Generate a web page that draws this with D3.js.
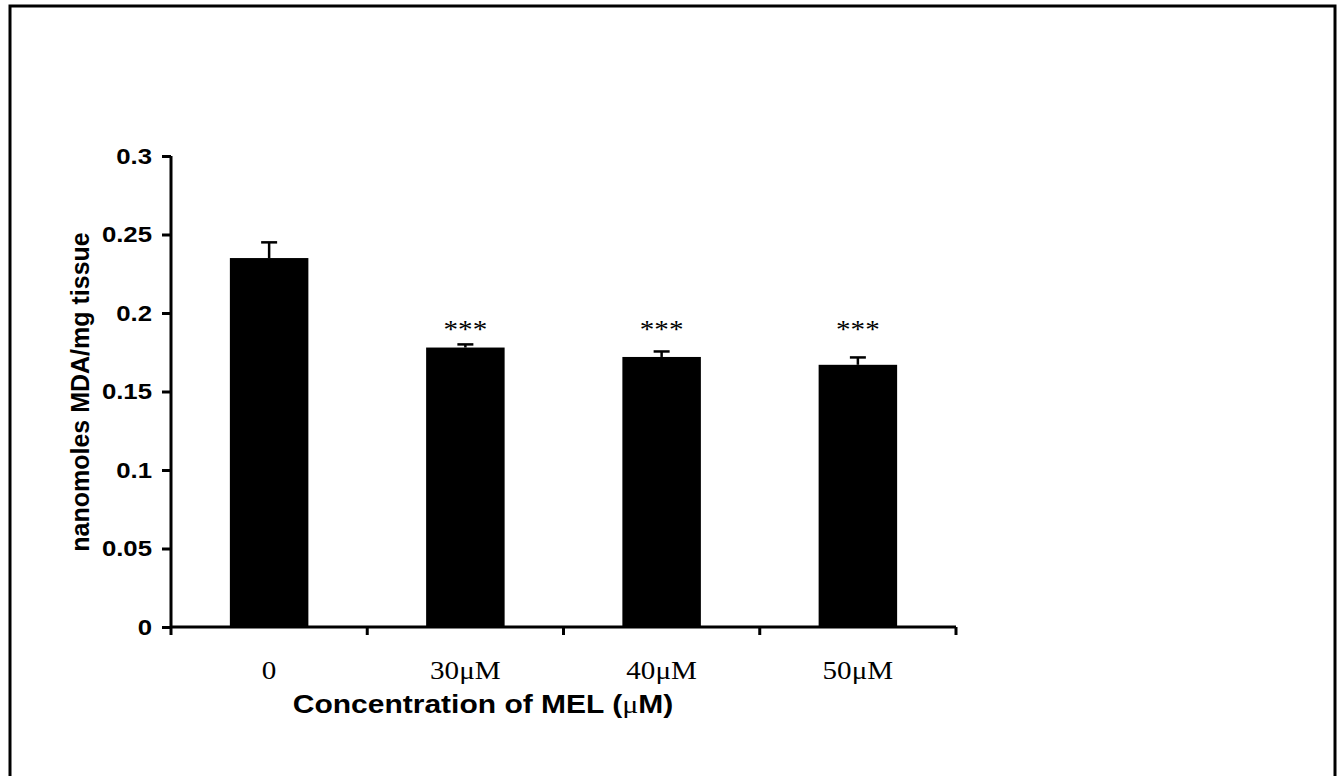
<!DOCTYPE html>
<html>
<head>
<meta charset="utf-8">
<script src="https://cdn.jsdelivr.net/npm/d3@7.9.0/dist/d3.min.js"></script>
<style>
  body { margin: 0; background: #fff; }
  svg { display: block; }
</style>
</head>
<body>
<svg id="chart" width="1338" height="776"></svg>
<script>
// data
const groups = ["0", "30\u03bcM", "40\u03bcM", "50\u03bcM"];
const means = [0.235, 0.178, 0.172, 0.167];
const errors = [0.010, 0.002, 0.0035, 0.0047];
const marks = ["", "***", "***", "***"];
const yTicks = [0, 0.05, 0.1, 0.15, 0.2, 0.25, 0.3];

const sans = "Liberation Sans, Arial, sans-serif";
const serif = "Liberation Serif, Times New Roman, serif";
const sx = 1.12; // the original figure's text is a bit wide

const svg = d3.select("#chart");

// outer frame (bottom edge runs past the page)
svg.append("rect")
  .attr("x", 10).attr("y", 6)
  .attr("width", 1325).attr("height", 820)
  .attr("fill", "none")
  .attr("stroke", "#000")
  .attr("stroke-width", 3);

const x = d3.scaleBand()
  .domain(groups)
  .range([171, 956])
  .paddingInner(0.6)
  .paddingOuter(0.3);

const y = d3.scaleLinear()
  .domain([0, 0.3])
  .range([627, 156]);

const cx = d => x(d) + x.bandwidth() / 2;

// bars
svg.selectAll(".bar")
  .data(groups)
  .join("rect")
  .attr("class", "bar")
  .attr("x", d => x(d))
  .attr("y", (d, i) => y(means[i]))
  .attr("width", x.bandwidth())
  .attr("height", (d, i) => y(0) - y(means[i]))
  .attr("fill", "#000");

// error bars (upper only)
const err = svg.selectAll(".err")
  .data(groups)
  .join("g")
  .attr("class", "err")
  .attr("stroke", "#000")
  .attr("stroke-width", 2.5);

err.append("line")
  .attr("x1", cx).attr("x2", cx)
  .attr("y1", (d, i) => y(means[i]))
  .attr("y2", (d, i) => y(means[i] + errors[i]));

err.append("line")
  .attr("x1", d => cx(d) - 8)
  .attr("x2", d => cx(d) + 8)
  .attr("y1", (d, i) => y(means[i] + errors[i]))
  .attr("y2", (d, i) => y(means[i] + errors[i]));

// significance stars
svg.selectAll(".star")
  .data(groups)
  .join("text")
  .attr("class", "star")
  .attr("transform", d => `translate(${cx(d)},${y(0.19) + 9}) scale(${sx},1)`)
  .attr("text-anchor", "middle")
  .attr("font-family", serif)
  .attr("font-size", 26)
  .text((d, i) => marks[i]);

// y axis
const yAxis = d3.axisLeft(y)
  .tickValues(yTicks)
  .tickFormat(d => d === 0 ? "0" : String(d))
  .tickSize(9);

svg.append("g")
  .attr("transform", "translate(171,0)")
  .call(yAxis)
  .call(g => g.select(".domain").attr("stroke-width", 3).attr("d", `M0,${y(0.3)}V${y(0)}`))
  .call(g => g.selectAll(".tick line").attr("stroke-width", 3))
  .call(g => g.selectAll(".tick text")
    .attr("x", -19 / sx)
    .attr("transform", `scale(${sx},1)`)
    .attr("font-family", sans)
    .attr("font-weight", "bold")
    .attr("font-size", 23)
    .attr("fill", "#000"));

// x axis with ticks at the band edges
const xAxisG = svg.append("g")
  .attr("stroke", "#000")
  .attr("stroke-width", 3);

xAxisG.append("line")
  .attr("x1", 171).attr("x2", 956)
  .attr("y1", y(0)).attr("y2", y(0));

const edges = groups.map(d => x(d) - x.step() * x.paddingInner() / 2)
  .concat([956]);
xAxisG.selectAll(".xt")
  .data(edges)
  .join("line")
  .attr("class", "xt")
  .attr("x1", d => d).attr("x2", d => d)
  .attr("y1", y(0)).attr("y2", y(0) + 8);

svg.selectAll(".xlab")
  .data(groups)
  .join("text")
  .attr("class", "xlab")
  .attr("transform", d => `translate(${cx(d)},679) scale(${sx},1)`)
  .attr("text-anchor", "middle")
  .attr("font-family", serif)
  .attr("font-size", 26)
  .text(d => d);

// axis titles
const xTitle = svg.append("text")
  .attr("transform", `translate(483,713) scale(1.2,1)`)
  .attr("text-anchor", "middle")
  .attr("font-family", sans)
  .attr("font-weight", "bold")
  .attr("font-size", 25);
xTitle.append("tspan").text("Concentration of MEL (");
xTitle.append("tspan")
  .attr("font-family", serif)
  .attr("font-weight", "normal")
  .text("\u03bc");
xTitle.append("tspan").text("M)");

svg.append("text")
  .attr("transform", "translate(89,392) rotate(-90)")
  .attr("text-anchor", "middle")
  .attr("font-family", sans)
  .attr("font-weight", "bold")
  .attr("font-size", 25)
  .text("nanomoles MDA/mg tissue");
</script>
</body>
</html>
